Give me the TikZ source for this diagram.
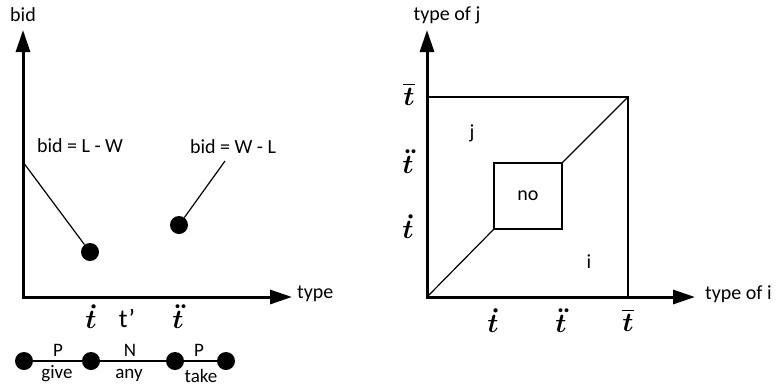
\documentclass[tikz,border=0pt]{standalone}
\usepackage{fontspec}
\setmainfont{Carlito}
\usetikzlibrary{arrows.meta}
\begin{document}
\begin{tikzpicture}[x=1pt,y=-1pt,
  axis/.style={line width=3pt, line join=miter,
    {Triangle[length=22pt,width=14pt]}-{Triangle[length=22pt,width=14pt]}},
  thinline/.style={line width=1.2pt},
  dotnode/.style={circle, fill=black, inner sep=0pt, minimum size=18pt},
  lbl/.style={font=\fontsize{20}{24}\selectfont, inner sep=0pt},
  slbl/.style={font=\fontsize{19}{22}\selectfont, inner sep=0pt},
  tplbl/.style={font=\fontsize{26}{30}\selectfont, inner sep=0pt},
  tlbl/.style={scale=2.7, inner sep=0pt, font=\boldmath}]
\useasboundingbox (0,0) rectangle (779,389);

% ---------- left plot ----------
\coordinate (O1) at (23,297);
\coordinate (Y1) at (23,30);
\coordinate (X1) at (292,297);
\draw[axis] (Y1) -- (O1) -- (X1);
\node[lbl] (bidlbl) at (23,15) {bid};
\node[lbl, anchor=west] (typelbl) at (297,294) {type};

\node[dotnode] (d1) at (90,252) {};
\node[dotnode] (d2) at (179,225) {};
\coordinate (a1) at (23,162);
\coordinate (a2) at (225,161);
\draw[thinline] (a1) -- (d1);
\draw[thinline] (a2) -- (d2);
\node[lbl] (lw) at (80,146) {bid = L - W};
\node[lbl] (wl) at (233,147) {bid = W - L};

\node[tlbl] (t1) at (91,317) {$\dot{t}$};
\node[tplbl] (tp) at (127,318) {t’};
\node[tlbl] (t2) at (178,317) {$\ddot{t}$};

\node[dotnode] (b1) at (24,361) {};
\node[dotnode] (b2) at (91,361) {};
\node[dotnode] (b3) at (175,361) {};
\node[dotnode] (b4) at (226,361) {};
\draw[thinline] (b1) -- (b2) -- (b3) -- (b4);
\node[slbl] (p1) at (58,350) {P};
\node[slbl] (g1) at (57,374) {give};
\node[slbl] (n1) at (130,350) {N};
\node[slbl] (any) at (129,375) {any};
\node[slbl] (p2) at (199,350) {P};
\node[slbl] (take) at (201,376) {take};

% ---------- right plot ----------
\coordinate (O2) at (427,297);
\coordinate (Y2) at (427,30);
\coordinate (X2) at (695,297);
\coordinate (TL) at (427,97);
\coordinate (TR) at (628,97);
\coordinate (BR) at (628,297);
\draw[thinline] (TL) -- (TR) -- (BR);
\node[draw, thinline, minimum width=68pt, minimum height=66pt, inner sep=0pt,
  font=\fontsize{20}{24}\selectfont] (nobox) at (528,196) {no};
\draw[thinline] (O2) -- (nobox.south west);
\draw[thinline] (nobox.north east) -- (TR);
\draw[axis] (Y2) -- (O2) -- (X2);

\node[lbl] (tj) at (447,15) {type of j};
\node[lbl, anchor=west] (ti) at (705,294) {type of i};
\node[lbl] (jl) at (472,133) {j};
\node[lbl] (il) at (589,262) {i};

\node[tlbl] (yt3) at (409,94) {$\overline{t}$};
\node[tlbl] (yt2) at (408,162) {$\ddot{t}$};
\node[tlbl] (yt1) at (408,227) {$\dot{t}$};
\node[tlbl] (xt1) at (493,321) {$\dot{t}$};
\node[tlbl] (xt2) at (561,321) {$\ddot{t}$};
\node[tlbl] (xt3) at (628,320) {$\overline{t}$};
\end{tikzpicture}
\end{document}
